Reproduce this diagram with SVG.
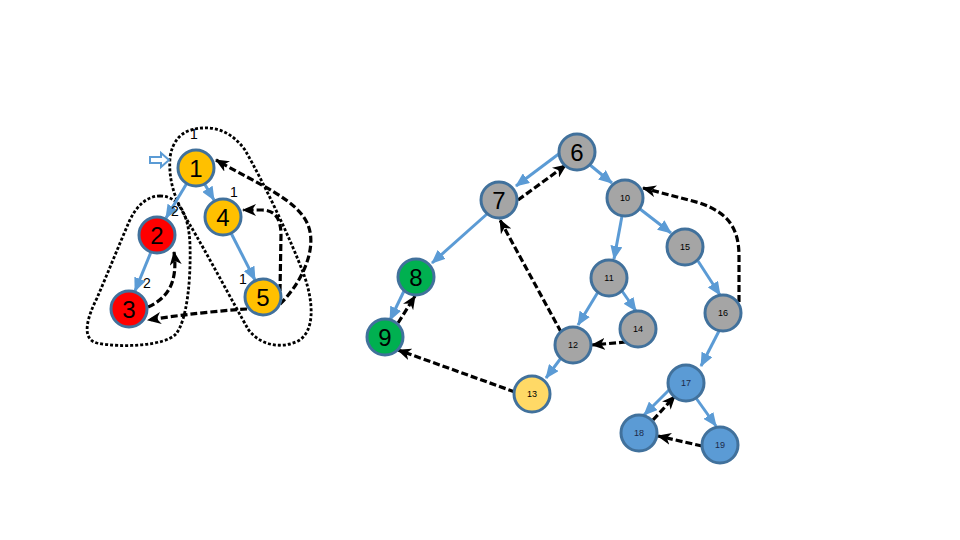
<svg xmlns="http://www.w3.org/2000/svg" width="960" height="540" viewBox="0 0 960 540">
<style>
.n{stroke:#41719C;stroke-width:3}
.o{fill:#FFC000}.r{fill:#FF0000}.g{fill:#A5A5A5}.gr{fill:#00B050}.y{fill:#FFD966}.b{fill:#5B9BD5}
.big{font-family:"Liberation Sans",Arial,sans-serif;font-size:24px;fill:#000;text-anchor:middle;dominant-baseline:central}
.sm{font-family:"Liberation Sans",Arial,sans-serif;font-size:9px;fill:#000;text-anchor:middle;dominant-baseline:central}
.lbl{font-family:"Liberation Sans",Arial,sans-serif;font-size:14px;fill:#000;text-anchor:middle;dominant-baseline:central}
.bl{fill:none;stroke:#5B9BD5;stroke-width:3;marker-end:url(#ab)}
.dk{fill:none;stroke:#000;stroke-width:3.2;stroke-dasharray:7 3;marker-end:url(#ak)}
.loop{fill:none;stroke:#000;stroke-width:2.8;stroke-dasharray:3 2}
</style>
<defs>
<marker id="ab" markerUnits="userSpaceOnUse" markerWidth="14" markerHeight="12" viewBox="0 0 14 12" refX="13" refY="6" orient="auto"><path d="M0,0 L14,6 L0,12 Z" fill="#5B9BD5"/></marker>
<marker id="ak" markerUnits="userSpaceOnUse" markerWidth="14" markerHeight="12" viewBox="0 0 14 12" refX="13" refY="6" orient="auto"><path d="M0,0 L14,6 L0,12 L4,6 Z" fill="#000"/></marker>
</defs>
<rect width="960" height="540" fill="#fff"/>
<g id="loops">
<path class="loop" d="M160,196 C179,196 189,215 190,245 C191,280 187,320 176,334 C165,346 120,348 97,343 C81,339 87,318 97,298 C107,275 119,245 129,222 C136,206 147,196 160,196 Z"/>
<path class="loop" d="M195,129 C215,125 232,132 245,150 C265,185 291,240 304,275 C313,300 316,331 298,341 C282,349 260,346 248,329 C235,306 205,250 190,225 C178,205 168,185 170,158 C172,141 182,131 195,129 Z"/>
</g>
<g id="start-arrow"><path d="M150,157 L161,157 L161,153 L169,160 L161,167 L161,163 L150,163 Z" fill="#fff" stroke="#5B9BD5" stroke-width="2"/></g>
<g id="connectors">
<path class="bl" d="M187,183 L166,218"/>
<path class="bl" d="M204,183 L214,200"/>
<path class="bl" d="M231,233 L255,280"/>
<path class="bl" d="M151,252 L135,291"/>
<path class="dk" d="M148,307 C168,298 178,282 174,252"/>
<path class="dk" d="M247,309 Q200,312 148,320"/>
<path class="dk" d="M280,291 L281,235 Q281,210 262,210 L243,210"/>
<path class="dk" d="M280,304 C300,285 318,250 308,225 C298,200 260,185 216,160"/>
<path class="bl" d="M560,153 L516,186"/>
<path class="bl" d="M590,165 L612,183"/>
<path class="bl" d="M487,214 L432,263"/>
<path class="bl" d="M404,291 L390,320"/>
<path class="bl" d="M622,216 L614,259"/>
<path class="bl" d="M640,209 L671,233"/>
<path class="bl" d="M698,261 L720,295"/>
<path class="bl" d="M598,292 L578,325"/>
<path class="bl" d="M622,291 L636,311"/>
<path class="bl" d="M561,358 L546,378"/>
<path class="bl" d="M719,331 L701,366"/>
<path class="bl" d="M670,389 L644,415"/>
<path class="bl" d="M696,398 L716,426"/>
<path class="dk" d="M518,200 L566,165"/>
<path class="dk" d="M398,323 L415,296"/>
<path class="dk" d="M561,332 L500,220"/>
<path class="dk" d="M626,342 L592,345"/>
<path class="dk" d="M515,392 L398,350"/>
<path class="dk" d="M739,302 L739,256 C739,225 725,212 700,203 L643,188"/>
<path class="dk" d="M653,420 L675,396"/>
<path class="dk" d="M702,446 L658,436"/>
</g>
<g id="labels">
<text class="lbl" x="194" y="134">1</text>
<text class="lbl" x="234" y="192">1</text>
<text class="lbl" x="175" y="211">2</text>
<text class="lbl" x="147" y="283">2</text>
<text class="lbl" x="243" y="279">1</text>
</g>
<g id="node1"><circle class="n o" cx="196" cy="168" r="18"/><text class="big" x="196" y="168">1</text></g>
<g id="node4"><circle class="n o" cx="223" cy="217" r="18"/><text class="big" x="223" y="217">4</text></g>
<g id="node2"><circle class="n r" cx="157" cy="235" r="18"/><text class="big" x="157" y="235">2</text></g>
<g id="node3"><circle class="n r" cx="129" cy="309" r="18"/><text class="big" x="129" y="309">3</text></g>
<g id="node5"><circle class="n o" cx="263" cy="297" r="18"/><text class="big" x="263" y="297">5</text></g>
<g id="node6"><circle class="n g" cx="577" cy="152" r="18"/><text class="big" x="577" y="152">6</text></g>
<g id="node7"><circle class="n g" cx="499" cy="200" r="18"/><text class="big" x="499" y="200">7</text></g>
<g id="node8"><circle class="n gr" cx="416" cy="277" r="18"/><text class="big" x="416" y="277">8</text></g>
<g id="node9"><circle class="n gr" cx="385" cy="337" r="18"/><text class="big" x="385" y="337">9</text></g>
<g id="node10"><circle class="n g" cx="625" cy="198" r="18"/><text class="sm" x="625" y="198">10</text></g>
<g id="node15"><circle class="n g" cx="685" cy="247" r="18"/><text class="sm" x="685" y="247">15</text></g>
<g id="node11"><circle class="n g" cx="609" cy="278" r="18"/><text class="sm" x="609" y="278">11</text></g>
<g id="node16"><circle class="n g" cx="723" cy="313" r="18"/><text class="sm" x="723" y="313">16</text></g>
<g id="node14"><circle class="n g" cx="638" cy="329" r="18"/><text class="sm" x="638" y="329">14</text></g>
<g id="node12"><circle class="n g" cx="573" cy="345" r="18"/><text class="sm" x="573" y="345">12</text></g>
<g id="node13"><circle class="n y" cx="532" cy="394" r="18"/><text class="sm" x="532" y="394">13</text></g>
<g id="node17"><circle class="n b" cx="686" cy="383" r="18"/><text class="sm" x="686" y="383" style="fill:#1b2a4a">17</text></g>
<g id="node18"><circle class="n b" cx="639" cy="433" r="18"/><text class="sm" x="639" y="433" style="fill:#1b2a4a">18</text></g>
<g id="node19"><circle class="n b" cx="720" cy="445" r="18"/><text class="sm" x="720" y="445" style="fill:#1b2a4a">19</text></g>
</svg>
